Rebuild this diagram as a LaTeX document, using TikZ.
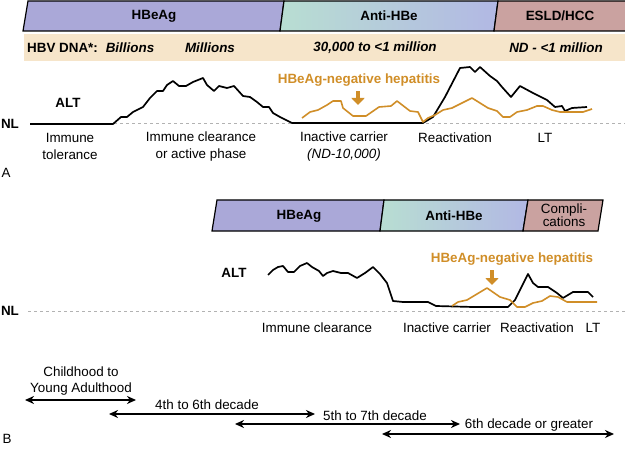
\documentclass[tikz,border=0pt]{standalone}
\usepackage{fontspec}
\setmainfont{Liberation Sans}
\usetikzlibrary{arrows.meta}
\definecolor{hbeag}{RGB}{170,168,216}
\definecolor{antiL}{RGB}{184,222,210}
\definecolor{antiR}{RGB}{178,184,228}
\definecolor{esld}{RGB}{202,162,160}
\definecolor{dnaband}{RGB}{246,229,202}
\definecolor{hepor}{RGB}{208,142,40}
\definecolor{nlgray}{RGB}{178,178,178}
\tikzset{
	txt/.style={font=\fontsize{13.4}{16.5}\selectfont, inner sep=0pt, align=center},
	btxt/.style={txt, font=\fontsize{13.4}{16.5}\selectfont\bfseries},
	bitxt/.style={txt, font=\fontsize{13.4}{16.5}\selectfont\bfseries\itshape},
	heptxt/.style={btxt, text=hepor},
	bar/.style={draw=black, line width=1.2pt, line join=miter},
	nlline/.style={draw=nlgray, line width=1pt, dash pattern=on 3pt off 3pt},
	altline/.style={draw=black, line width=1.7pt, line join=round},
	hepline/.style={draw=hepor, line width=1.6pt, line join=round},
	hepdown/.style={draw=hepor, line width=4.5pt, -{Triangle[length=7pt,width=13pt]}},
	agearrow/.style={draw=black, line width=1.5pt, {Stealth[length=9pt,width=8pt]}-{Stealth[length=9pt,width=8pt]}},
}

\begin{document}
\begin{tikzpicture}[x=1pt, y=-1pt]
	\useasboundingbox (0,0) rectangle (625,452);

	% panel A
	\draw[bar, fill=hbeag] (23,31) -- (28,1) -- (284,1) -- (280,31) -- cycle;
	\draw[bar, left color=antiL, right color=antiR] (280,31) -- (284,1) -- (498,1) -- (494,31) -- cycle;
	\draw[bar, fill=esld] (494,31) -- (498,1) -- (630,1) -- (630,31) -- cycle;
	\node[btxt] (hbeagA) at (154,16) {HBeAg};
	\node[btxt] (antiA) at (389,16) {Anti-HBe};
	\node[btxt] (esldA) at (560,16) {ESLD/HCC};
	\fill[dnaband] (24,34) rectangle (625,61);
	\node[btxt, anchor=west] (dna) at (27,48) {HBV DNA*:};
	\node[bitxt] (billions) at (130,48) {Billions};
	\node[bitxt] (millions) at (210,48) {Millions};
	\node[bitxt] (mid) at (375,48) {30,000 to <1 million};
	\node[bitxt] (late) at (556,48) {ND - <1 million};

	\coordinate (nlAs) at (30,124);
	\coordinate (nlAe) at (625,124);
	\draw[nlline] (nlAs) -- (nlAe);
	\node[btxt] (nlA) at (10,124) {NL};
	\node[btxt] (altA) at (68,103) {ALT};
	\draw[altline] (nlAs) -- (113,124) -- (121,117) -- (127,117) -- (133,112) -- (143,107) -- (150,98) -- (157,91) -- (163,91) -- (167,85) -- (173,81) -- (179,86) -- (186,86) -- (193,82) -- (203,78) -- (207,85) -- (214,91) -- (219,86) -- (227,88) -- (234,86) -- (243,96) -- (250,97) -- (257,102) -- (263,107) -- (269,107) -- (273,113) -- (280,117) -- (292,123) -- (423,123) -- (433,117) -- (445,97) -- (460,68) -- (470,67) -- (475,72) -- (480,67) -- (490,76) -- (497,81) -- (502,87) -- (511,97) -- (520,86) -- (533,93) -- (547,100) -- (555,107) -- (562,106) -- (565,111) -- (572,108) -- (587,107);
	\draw[hepline] (302,118) -- (310,112) -- (318,110) -- (327,105) -- (333,101) -- (341,101) -- (343,108) -- (353,116) -- (366,116) -- (379,107) -- (391,106) -- (397,101) -- (410,111) -- (418,112) -- (423,122) -- (428,118) -- (435,115) -- (443,110) -- (452,108) -- (472,98) -- (488,108) -- (497,111) -- (503,117) -- (510,117) -- (517,112) -- (527,110) -- (537,106) -- (543,106) -- (552,110) -- (560,112) -- (583,112) -- (592,109);
	\node[heptxt] (hepA) at (359,80) {HBeAg-negative hepatitis};
	\coordinate (hepAtip) at (358,105);
	\draw[hepdown] (hepA.south -| hepAtip) ++(0,5) -- (hepAtip);

	\node[txt] (tolA) at (70,146.5) {Immune\\tolerance};
	\node[txt] (clrA) at (201,146.5) {Immune clearance\\or active phase};
	\node[txt] (inactA) at (344,146.5) {Inactive carrier\\\itshape(ND-10,000)};
	\node[txt] (reactA) at (455,138) {Reactivation};
	\node[txt] (ltA) at (545,138) {LT};
	\node[txt] (labA) at (6,173) {A};

	% panel B
	\draw[bar, fill=hbeag] (212,231) -- (217,200) -- (384,200) -- (380,231) -- cycle;
	\draw[bar, left color=antiL, right color=antiR] (380,231) -- (384,200) -- (528,200) -- (523,231) -- cycle;
	\draw[bar, fill=esld] (523,231) -- (528,200) -- (603,200) -- (598,231) -- cycle;
	\node[btxt] (hbeagB) at (299,216) {HBeAg};
	\node[btxt] (antiB) at (454,216) {Anti-HBe};
	\node[txt, font=\fontsize{13.4}{13}\selectfont] (compB) at (564,215.5) {Compli-\\cations};

	\coordinate (nlBs) at (28,311);
	\coordinate (nlBe) at (625,311);
	\draw[nlline] (nlBs) -- (nlBe);
	\node[btxt] (nlB) at (10,311) {NL};
	\node[btxt] (altB) at (234,273) {ALT};
	\draw[altline] (268,275) -- (273,270) -- (278,267) -- (283,266) -- (288,272) -- (294,272) -- (300,266) -- (307,263) -- (312,267) -- (319,271) -- (323,276) -- (327,273) -- (333,271) -- (341,273) -- (348,273) -- (357,278) -- (365,273) -- (373,267) -- (380,274) -- (387,283) -- (393,301) -- (403,302) -- (428,302) -- (436,306) -- (473,307) -- (508,307) -- (515,300) -- (528,274) -- (533,283) -- (538,287) -- (548,287) -- (557,293) -- (563,298) -- (573,292) -- (588,292) -- (593,297);
	\draw[hepline] (452,306) -- (458,302) -- (467,300) -- (487,288) -- (500,297) -- (510,300) -- (517,307) -- (525,307) -- (533,303) -- (542,301) -- (550,296) -- (558,297) -- (567,302) -- (577,302) -- (597,302);
	\node[heptxt] (hepB) at (512,259) {HBeAg-negative hepatitis};
	\coordinate (hepBtip) at (492,285);
	\draw[hepdown] (hepB.south -| hepBtip) ++(0,5) -- (hepBtip);

	\node[txt] (clrB) at (317,328) {Immune clearance};
	\node[txt] (inactB) at (447,328) {Inactive carrier};
	\node[txt] (reactB) at (537,328) {Reactivation};
	\node[txt] (ltB) at (593,328) {LT};

	% age ranges
	\coordinate (age1s) at (25,400);
	\coordinate (age1e) at (136,400);
	\coordinate (age2s) at (109,414);
	\coordinate (age2e) at (315,414);
	\coordinate (age3s) at (235,424);
	\coordinate (age3e) at (460,424);
	\coordinate (age4s) at (382,434);
	\coordinate (age4e) at (614,434);
	\draw[agearrow] (age1s) -- (age1e);
	\draw[agearrow] (age2s) -- (age2e);
	\draw[agearrow] (age3s) -- (age3e);
	\draw[agearrow] (age4s) -- (age4e);
	\node[txt] (child) at (81,381) {Childhood to\\Young Adulthood};
	\node[txt] (dec4) at (207,405) {4th to 6th decade};
	\node[txt] (dec5) at (375,416) {5th to 7th decade};
	\node[txt] (dec6) at (529,425) {6th decade or greater};
	\node[txt] (labB) at (7,439) {B};
\end{tikzpicture}
\end{document}
